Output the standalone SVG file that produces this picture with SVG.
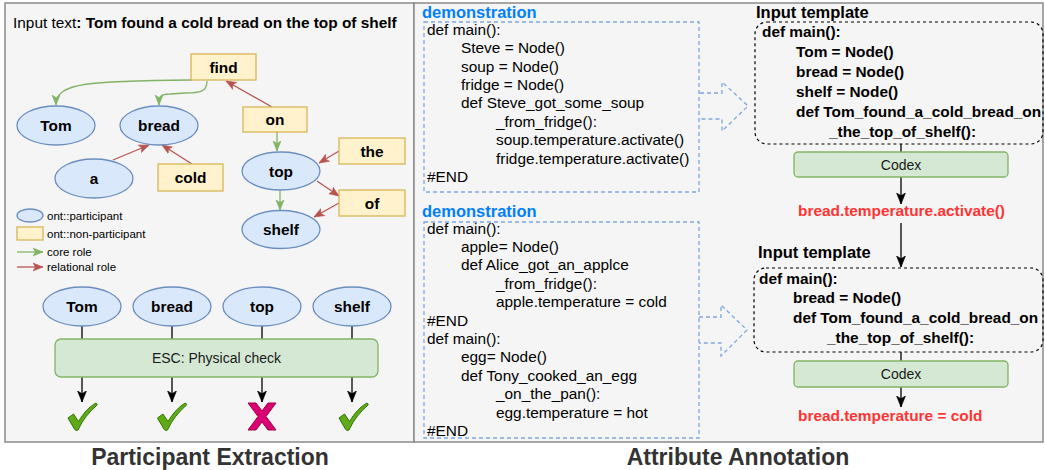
<svg xmlns="http://www.w3.org/2000/svg" width="1045" height="470" viewBox="0 0 1045 470">
<style>
text{font-family:"Liberation Sans",Arial,Helvetica,sans-serif;}
.ell{fill:#dae8fc;stroke:#6c8ebf;stroke-width:1.3}
.rct{fill:#fff2cc;stroke:#d6b656;stroke-width:1.3}
.grnbox{fill:#d5e8d4;stroke:#82b366;stroke-width:1.3}
.lbl{font-size:15.4px;font-weight:bold;text-anchor:middle;fill:#000}
.code{font-size:15.4px;fill:#000}
.codeb{font-size:15.4px;font-weight:bold;fill:#000}
.leg{font-size:11.5px;fill:#000}
.plain{font-size:14px;fill:#1a1a1a;text-anchor:middle}
.hdr{font-size:16.5px;font-weight:bold;fill:#000}
.demo{font-size:16.5px;font-weight:bold;fill:#007fff}
.res{font-size:15.4px;font-weight:bold;fill:#ff3333}
.title{font-size:23px;font-weight:bold;fill:#333;text-anchor:middle}
.g{fill:none;stroke:#82b366;stroke-width:1.3;marker-end:url(#ag)}
.r{fill:none;stroke:#b85450;stroke-width:1.3;marker-end:url(#ar)}
.k{fill:none;stroke:#000;stroke-width:1.3}
.ka{fill:none;stroke:#000;stroke-width:1.3;marker-end:url(#ak)}
.bd{fill:none;stroke:#7ea6e0;stroke-width:1.3;stroke-dasharray:4 3}
.kd{fill:none;stroke:#000;stroke-width:1.2;stroke-dasharray:3 3}
</style>
<defs>
<marker id="ag" viewBox="0 0 10 10" refX="10" refY="5" markerWidth="10" markerHeight="10" orient="auto" markerUnits="userSpaceOnUse"><path d="M0,1 L10,5 L0,9 L2.5,5 Z" fill="#82b366" stroke="#82b366" stroke-width="0.6"/></marker>
<marker id="ar" viewBox="0 0 10 10" refX="10" refY="5" markerWidth="10" markerHeight="10" orient="auto" markerUnits="userSpaceOnUse"><path d="M0,1 L10,5 L0,9 L2.5,5 Z" fill="#b85450" stroke="#b85450" stroke-width="0.6"/></marker>
<marker id="ak" viewBox="0 0 10 10" refX="10" refY="5" markerWidth="11" markerHeight="11" orient="auto" markerUnits="userSpaceOnUse"><path d="M0,1 L10,5 L0,9 L2.5,5 Z" fill="#000" stroke="#000" stroke-width="0.6"/></marker>
<path id="chk" d="M -14.5 15 L -9 11 L -4 18.5 C 1 10, 7 3.5, 13.5 0 L 14.8 1.8 C 7 8.5, 0 17, -4.5 27 C -5.5 27.8, -7 27.5, -7.8 26.5 Z" fill="#60a917" stroke="#2d7600" stroke-width="1"/>
<path id="xm" d="M -14 -13.5 L -6 -13.5 L 0 -5.5 L 6 -13.5 L 14 -13.5 L 4 0 L 14 13.5 L 6 13.5 L 0 5.5 L -6 13.5 L -14 13.5 L -4 0 Z" fill="#d80073" stroke="#a50040" stroke-width="1"/>
</defs>
<rect x="0" y="0" width="1045" height="470" fill="#fff"/>
<g id="panels">
<rect x="5" y="3" width="409" height="439" fill="#f5f5f5" stroke="#8a8a8a" stroke-width="1.5"/>
<rect x="414" y="3" width="629" height="439" fill="#f5f5f5" stroke="#8a8a8a" stroke-width="1.5"/>
</g>
<text x="13" y="28" style="font-size:15.4px">Input text<tspan font-weight="bold">: Tom found a cold bread on the top of shelf</tspan></text>
<g id="connectors">
<path class="g" d="M 192 80 C 90 81, 56 82, 56 105"/>
<path class="g" d="M 207 81 C 207 92, 200 93, 185 93 L 170 94 C 160 94, 159 97, 159 105"/>
<path class="r" d="M 272 107 L 226 81"/>
<path class="g" d="M 277 132 L 277 151"/>
<path class="r" d="M 113 160 L 149 145"/>
<path class="r" d="M 192 164 L 162 145"/>
<path class="r" d="M 339 151 L 319 163"/>
<path class="r" d="M 317 181 L 339 196"/>
<path class="r" d="M 339 203 L 314 217"/>
<path class="g" d="M 280 190 L 280 210"/>
<path class="g" d="M 17 252 L 43 252"/>
<path class="r" d="M 17 267 L 43 267"/>
<path class="k" d="M 82 326 V 339 M 172 326 V 339 M 262 326 V 339 M 352 326 V 339"/>
<path class="ka" d="M 82 377 V 402"/>
<path class="ka" d="M 172 377 V 402"/>
<path class="ka" d="M 262 377 V 402"/>
<path class="ka" d="M 352 377 V 402"/>
<path class="bd" d="M 700 93 L 722 93 L 722 82 L 748 106 L 722 131 L 722 119 L 700 119"/>
<path class="bd" d="M 699 317 L 721 317 L 721 305 L 747 330 L 721 356 L 721 343 L 699 343"/>
<path class="k" d="M 901 144 V 152"/>
<path class="ka" d="M 901 177 V 204"/>
<path class="ka" d="M 901 223 V 267"/>
<path class="k" d="M 901 352 V 361"/>
<path class="ka" d="M 901 387 V 407"/>
</g>
<g id="node-find"><rect class="rct" x="191" y="54" width="65" height="26"/><text class="lbl" x="223.5" y="72.5">find</text></g>
<g id="node-Tom"><ellipse class="ell" cx="56" cy="125.5" rx="39" ry="19.5"/><text class="lbl" x="56" y="131">Tom</text></g>
<g id="node-bread"><ellipse class="ell" cx="159" cy="125.5" rx="39" ry="19.5"/><text class="lbl" x="159" y="131">bread</text></g>
<g id="node-on"><rect class="rct" x="243" y="107" width="64" height="25"/><text class="lbl" x="275" y="125">on</text></g>
<g id="node-a"><ellipse class="ell" cx="94" cy="178.5" rx="39" ry="19.5"/><text class="lbl" x="94" y="184">a</text></g>
<g id="node-cold"><rect class="rct" x="158" y="164" width="65" height="27"/><text class="lbl" x="190.5" y="183">cold</text></g>
<g id="node-top"><ellipse class="ell" cx="281" cy="171" rx="39" ry="19"/><text class="lbl" x="281" y="176.5">top</text></g>
<g id="node-the"><rect class="rct" x="339" y="138" width="66" height="26"/><text class="lbl" x="372" y="156.5">the</text></g>
<g id="node-of"><rect class="rct" x="339" y="190" width="66" height="26"/><text class="lbl" x="372" y="208.5">of</text></g>
<g id="node-shelf"><ellipse class="ell" cx="281" cy="229.5" rx="39" ry="19"/><text class="lbl" x="281" y="235">shelf</text></g>
<g id="legend">
<ellipse class="ell" cx="30" cy="215.5" rx="13" ry="6.5"/>
<text class="leg" x="47" y="219.5">ont::participant</text>
<rect class="rct" x="17" y="227" width="26" height="13"/>
<text class="leg" x="47" y="237.5">ont::non-participant</text>
<text class="leg" x="47" y="255.5">core role</text>
<text class="leg" x="47" y="270.5">relational role</text>
</g>
<g id="node-Tom2"><ellipse class="ell" cx="82" cy="306.5" rx="39" ry="19.5"/><text class="lbl" x="82" y="312">Tom</text></g>
<g id="node-bread2"><ellipse class="ell" cx="172" cy="306.5" rx="39" ry="19.5"/><text class="lbl" x="172" y="312">bread</text></g>
<g id="node-top2"><ellipse class="ell" cx="262" cy="306.5" rx="39" ry="19.5"/><text class="lbl" x="262" y="312">top</text></g>
<g id="node-shelf2"><ellipse class="ell" cx="352" cy="306.5" rx="39" ry="19.5"/><text class="lbl" x="352" y="312">shelf</text></g>
<g id="node-esc"><rect class="grnbox" x="55" y="339" width="323" height="38" rx="6"/><text class="plain" x="216.5" y="363">ESC: Physical check</text></g>
<g id="marks">
<use href="#chk" x="82.5" y="403"/>
<use href="#chk" x="172" y="403"/>
<use href="#xm" x="262" y="416.5"/>
<use href="#chk" x="353.5" y="403"/>
</g>
<g id="demo1">
<text class="demo" x="422" y="18">demonstration</text>
<rect class="bd" x="424" y="22" width="275" height="170"/>
<text class="code" x="427" y="34.8">def main():</text>
<text class="code" x="461" y="53.2">Steve = Node()</text>
<text class="code" x="461" y="71.6">soup = Node()</text>
<text class="code" x="461" y="90">fridge = Node()</text>
<text class="code" x="461" y="108.4">def Steve_got_some_soup</text>
<text class="code" x="496" y="126.8">_from_fridge():</text>
<text class="code" x="496" y="145.2">soup.temperature.activate()</text>
<text class="code" x="496" y="163.6">fridge.temperature.activate()</text>
<text class="code" x="427" y="182.2">#END</text>
</g>
<g id="demo2">
<text class="demo" x="422" y="217">demonstration</text>
<rect class="bd" x="424" y="222" width="275" height="216"/>
<text class="code" x="427" y="233.6">def main():</text>
<text class="code" x="461" y="252">apple= Node()</text>
<text class="code" x="461" y="270.4">def Alice_got_an_applce</text>
<text class="code" x="496" y="288.8">_from_fridge():</text>
<text class="code" x="496" y="307.2">apple.temperature = cold</text>
<text class="code" x="427" y="325.6">#END</text>
<text class="code" x="427" y="344">def main():</text>
<text class="code" x="461" y="362.4">egg= Node()</text>
<text class="code" x="461" y="380.8">def Tony_cooked_an_egg</text>
<text class="code" x="496" y="399.2">_on_the_pan():</text>
<text class="code" x="496" y="417.6">egg.temperature = hot</text>
<text class="code" x="427" y="436">#END</text>
</g>
<g id="template1">
<text class="hdr" x="756" y="18">Input template</text>
<rect class="kd" x="755" y="22" width="288" height="122" rx="12"/>
<text class="codeb" x="762" y="36.5">def main():</text>
<text class="codeb" x="796" y="57">Tom = Node()</text>
<text class="codeb" x="796" y="77">bread = Node()</text>
<text class="codeb" x="796" y="97">shelf = Node()</text>
<text class="codeb" x="796" y="117">def Tom_found_a_cold_bread_on</text>
<text class="codeb" x="829" y="137">_the_top_of_shelf():</text>
</g>
<g id="codex1"><rect class="grnbox" x="794" y="152" width="214" height="25" rx="4"/><text class="plain" x="901" y="169.5">Codex</text></g>
<g id="result1"><text class="res" x="798" y="216">bread.temperature.activate()</text></g>
<g id="template2">
<text class="hdr" x="758" y="257.5">Input template</text>
<rect class="kd" x="754" y="268" width="289" height="84" rx="12"/>
<text class="codeb" x="759" y="283.5">def main():</text>
<text class="codeb" x="793" y="303">bread = Node()</text>
<text class="codeb" x="793" y="323">def Tom_found_a_cold_bread_on</text>
<text class="codeb" x="827" y="343">_the_top_of_shelf():</text>
</g>
<g id="codex2"><rect class="grnbox" x="794" y="361" width="214" height="26" rx="4"/><text class="plain" x="901" y="379">Codex</text></g>
<g id="result2"><text class="res" x="798" y="421">bread.temperature = cold</text></g>
<text class="title" x="210" y="465">Participant Extraction</text>
<text class="title" x="738" y="465">Attribute Annotation</text>
</svg>
